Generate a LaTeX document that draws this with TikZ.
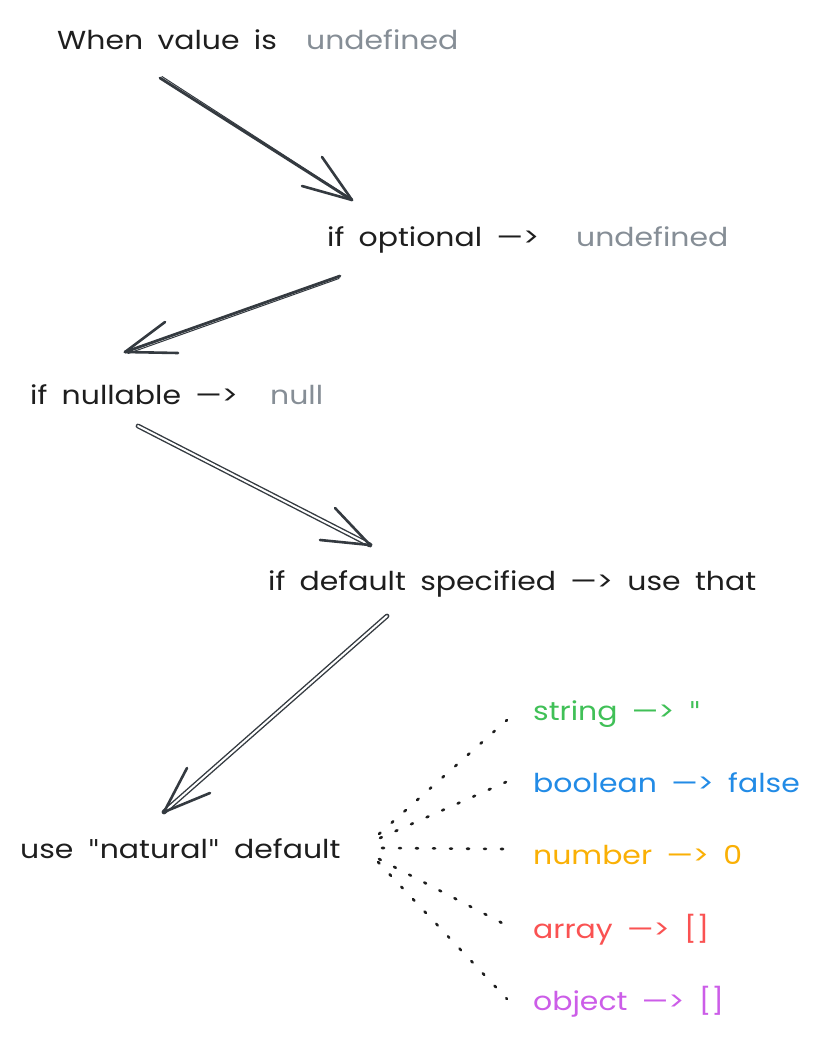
\documentclass[tikz,border=0pt]{standalone}
\usepackage{fontspec}
\setmainfont{Poppins}[FakeStretch=1.15,WordSpace=1.8]
\newfontfamily\qfont{DejaVu Sans}
\newcommand{\sq}{{\qfont\symbol{34}}}
\usetikzlibrary{calc}
\definecolor{ink}{HTML}{1E1E1E}
\definecolor{arr}{HTML}{343A40}
\definecolor{mute}{HTML}{868E96}
\definecolor{cgreen}{HTML}{40C057}
\definecolor{cblue}{HTML}{228BE6}
\definecolor{corange}{HTML}{FAB005}
\definecolor{cred}{HTML}{FA5252}
\definecolor{cpurple}{HTML}{CC5DE8}
\begin{document}
\begin{tikzpicture}[x=1pt,y=-1pt,
  lbl/.style={anchor=base west,inner sep=0pt,text=ink,font=\fontsize{26}{30}\selectfont},
  arrline/.style={draw=arr,line width=2.8pt,line cap=round,line join=round},
  dblline/.style={draw=arr,line width=1.4pt,double=white,double distance=2pt,line cap=round},
  barb/.style={draw=arr,line width=2.6pt,line cap=round},
  dots/.style={draw=ink,line width=2.6pt,line cap=round,dash pattern=on 2pt off 15pt}]
\path[fill=white,use as bounding box] (0,0) rectangle (823,1044);

% texts
\node[lbl] (t1) at (57,49) {When value is};
\node[lbl,text=mute] (t1u) at (306,49) {undefined};
\node[lbl] (t2) at (327,246) {if optional —>};
\node[lbl,text=mute] (t2u) at (576,246) {undefined};
\node[lbl] (t3) at (30,404) {if nullable —>};
\node[lbl,text=mute] (t3u) at (270,404) {null};
\node[lbl] (t4) at (268,590) {if default specified —> use that};
\node[lbl] (t5) at (20,858) {use \sq natural\sq{} default};
\node[lbl,text=cgreen] (s1) at (533,720) {string —> \sq};
\node[lbl,text=cblue] (s2) at (533,792) {boolean —> false};
\node[lbl,text=corange] (s3) at (533,864) {number —> 0};
\node[lbl,text=cred] (s4) at (533,938) {array —> []};
\node[lbl,text=cpurple] (s5) at (533,1010) {object —> []};

% arrow endpoints
\coordinate (a1s) at (160,78);   \coordinate (a1e) at (352,200);
\coordinate (a1b1) at (322,157); \coordinate (a1b2) at (302,186);
\coordinate (a2s) at (340,276);  \coordinate (a2e) at (125,352);
\coordinate (a2b1) at (165,322); \coordinate (a2b2) at (178,353);
\coordinate (a3s) at (138,426);  \coordinate (a3e) at (370,545);
\coordinate (a3b1) at (335,508); \coordinate (a3b2) at (320,540);
\coordinate (a4s) at (387,616);  \coordinate (a4e) at (164,812);
\coordinate (a4b1) at (187,768); \coordinate (a4b2) at (210,793);

\draw[arrline] (a1s) -- (a1e);
\draw[arrline,line width=1pt] ($(a1s)+(2,-1.5)$) -- ($(a1e)+(-1,-1.5)$);
\draw[barb] (a1e) -- (a1b1);
\draw[barb] (a1e) -- (a1b2);

\draw[arrline] (a2s) -- (a2e);
\draw[arrline,line width=1pt] ($(a2s)+(-1,2.5)$) -- ($(a2e)+(3,1.5)$);
\draw[barb] (a2e) -- (a2b1);
\draw[barb] (a2e) -- (a2b2);

\draw[dblline] (a3s) -- (a3e);
\draw[barb] (a3e) -- (a3b1);
\draw[barb] (a3e) -- (a3b2);

\draw[dblline] (a4s) -- (a4e);
\draw[barb] (a4e) -- (a4b1);
\draw[barb] (a4e) -- (a4b2);

% dotted fan
\coordinate (d1) at (379,834); \coordinate (d1e) at (507,720);
\coordinate (d2) at (380,838); \coordinate (d2e) at (506,782);
\coordinate (d3) at (382,848); \coordinate (d3e) at (504,849);
\coordinate (d4) at (379,859); \coordinate (d4e) at (504,924);
\coordinate (d5) at (378,862); \coordinate (d5e) at (507,999);
\draw[dots] (d1) -- (d1e);
\draw[dots] (d2) -- (d2e);
\draw[dots] (d3) -- (d3e);
\draw[dots] (d4) -- (d4e);
\draw[dots] (d5) -- (d5e);
\end{tikzpicture}
\end{document}
